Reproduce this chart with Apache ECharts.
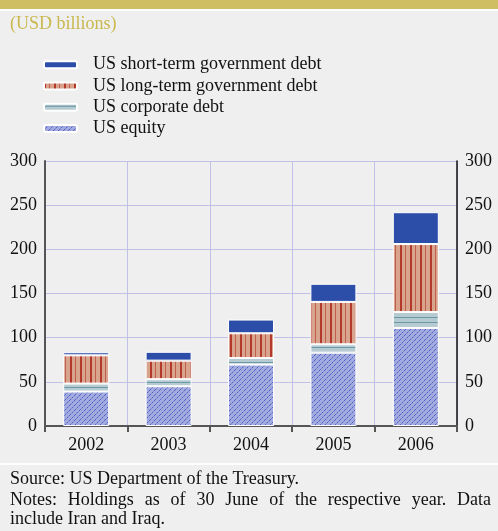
<!DOCTYPE html>
<html><head><meta charset="utf-8">
<script src="https://cdn.jsdelivr.net/npm/echarts@6/dist/echarts.min.js"></script>
<style>html,body{margin:0;padding:0;background:#efefef;}#c{width:498px;height:531px;}</style>
</head><body><div id="c"></div>
<script>
const years = ['2002','2003','2004','2005','2006'];
const equity = [39, 45, 69.5, 83, 111];
const corporate = [9, 8, 7.5, 9.5, 18];
const longTerm = [32, 21, 28, 48, 77];
const shortTerm = [3.5, 10, 15.5, 20.5, 36];
const seriesNames = ['US short-term government debt','US long-term government debt','US corporate debt','US equity'];
const unitLabel = '(USD billions)';
const sourceText = 'Source: US Department of the Treasury.';
const notesWords = ['Notes:','Holdings','as','of','30','June','of','the','respective','year.','Data'];
const notesLine2 = 'include Iran and Iraq.';

function pat(w,h,bg,draw){
  const c=document.createElement('canvas'); c.width=w; c.height=h;
  const x=c.getContext('2d'); x.fillStyle=bg; x.fillRect(0,0,w,h); draw(x);
  return {image:c, repeat:'repeat'};
}
const pLong = pat(10,4,'#d9a48e',x=>{x.fillStyle='#b3392b';x.fillRect(0,0,2,4);x.fillStyle='#c0604c';x.fillRect(5,0,1,4);});
const pCorp = pat(4,5,'#b6cad1',x=>{x.fillStyle='#6b98a6';x.fillRect(0,2,4,1);});
const pEq = pat(5,5,'#a3aade',x=>{x.fillStyle='#4c5ec8';for(let i=0;i<5;i++){ x.globalAlpha = (i%2===0)?0.95:0.45; x.fillRect(i,4-i,1,1);} x.globalAlpha=1;});
const cShort = '#2c4ea8';

const FF = 'Liberation Serif';
const FONT = '18px ' + FF;
const chart = echarts.init(document.getElementById('c'));
const barW = 46;
function ser(name,data,color){
  return {name, type:'bar', stack:'s', data, barWidth:barW,
    itemStyle:{color, borderColor:'#ffffff', borderWidth:1}};
}
const mc = document.createElement('canvas').getContext('2d');
mc.font = FONT;
const widths = notesWords.map(w=>mc.measureText(w).width);
const totalW = widths.reduce((a,b)=>a+b,0);
const gap = (491 - 10 - totalW) / (notesWords.length - 1);
const graphics = [
  {type:'rect', shape:{x:0,y:0,width:498,height:9}, style:{fill:'#cfbf62'}},
  {type:'rect', shape:{x:0,y:9,width:498,height:2}, style:{fill:'#ffffff'}},
  {type:'text', left:10, top:15, style:{text:unitLabel, font:FONT, fill:'#c9b84e'}},
  {type:'rect', shape:{x:0,y:463,width:498,height:2}, style:{fill:'#ffffff'}},
  {type:'text', left:10, top:470, style:{text:sourceText, font:FONT, fill:'#111'}},
  {type:'text', left:10, top:510, style:{text:notesLine2, font:FONT, fill:'#111'}}
];
let cx = 10;
notesWords.forEach((w,i)=>{
  graphics.push({type:'text', x:cx, y:491, style:{text:w, font:FONT, fill:'#111'}});
  cx += widths[i] + gap;
});

chart.setOption({
  backgroundColor:'#efefef',
  animation:false,
  textStyle:{fontFamily:FF},
  graphic:graphics,
  legend:{orient:'vertical', left:38, top:49, itemWidth:33, itemHeight:7, itemGap:0,
    data:seriesNames, textStyle:{fontFamily:FF, fontSize:18, color:'#111', lineHeight:21.3, padding:[0,0,0,11]}},
  grid:{left:45, right:41, top:161, bottom:105},
  xAxis:{type:'category', data:years, boundaryGap:true,
    axisLine:{lineStyle:{color:'#555', width:2}},
    axisTick:{show:true, length:6, lineStyle:{color:'#555', width:2}},
    splitLine:{show:true, interval:0, lineStyle:{color:'#c0c0e8', width:1}},
    axisLabel:{fontFamily:FF, fontSize:18, color:'#111', margin:10}},
  yAxis:[
    {type:'value', min:0, max:300, interval:50, position:'left',
      axisLine:{show:true, lineStyle:{color:'#555', width:2}}, axisTick:{show:false},
      splitLine:{lineStyle:{color:'#c0c0e8', width:1}},
      axisLabel:{fontFamily:FF, fontSize:18, color:'#111', margin:8}},
    {type:'value', min:0, max:300, interval:50, position:'right',
      axisLine:{show:true, lineStyle:{color:'#111', width:1.5}}, axisTick:{show:false},
      splitLine:{show:false},
      axisLabel:{fontFamily:FF, fontSize:18, color:'#111', margin:8}}
  ],
  series:[
    ser(seriesNames[3], equity, pEq),
    ser(seriesNames[2], corporate, pCorp),
    ser(seriesNames[1], longTerm, pLong),
    ser(seriesNames[0], shortTerm, cShort)
  ]
});
</script></body></html>
